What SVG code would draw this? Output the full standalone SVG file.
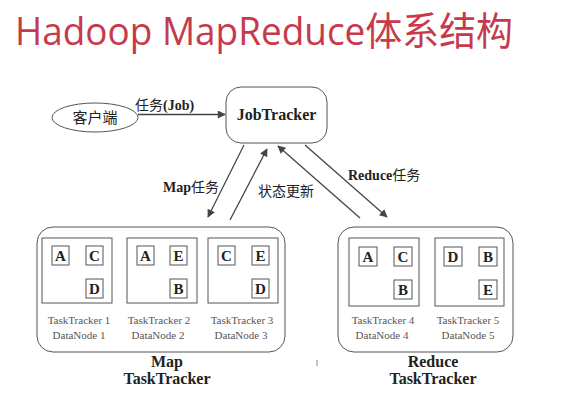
<svg xmlns="http://www.w3.org/2000/svg" width="561" height="405" viewBox="0 0 561 405">
<style>
.t{font-family:"Liberation Serif","Noto Sans CJK SC",serif;fill:#222}
.b{font-weight:bold}
.s{font-family:"Liberation Serif",serif;font-size:11px;fill:#555;text-anchor:middle}
.box{fill:#fff;stroke:#555;stroke-width:1}
.sq{fill:#fff;stroke:#555;stroke-width:1}
.l{font-family:"Liberation Serif",serif;font-weight:bold;font-size:15px;fill:#222;text-anchor:middle}
.c{stroke:#444;stroke-width:1.3;fill:none;marker-end:url(#ah)}
</style>
<defs>
<marker id="ah" viewBox="0 0 10 10" refX="9" refY="5" markerWidth="10" markerHeight="8" markerUnits="userSpaceOnUse" orient="auto">
<path d="M0,0 L10,5 L0,10 z" fill="#444"/>
</marker>
</defs>
<rect width="561" height="405" fill="#fff"/>
<text x="15" y="45" font-family="'Open Sans','Noto Sans CJK SC',sans-serif" font-size="39" fill="#c73a4b" textLength="498" lengthAdjust="spacingAndGlyphs">Hadoop MapReduce体系结构</text>

<g id="client">
<ellipse cx="95" cy="117.5" rx="43" ry="14.5" fill="#fff" stroke="#555"/>
<text x="95" y="123" class="t" font-size="15" text-anchor="middle">客户端</text>
</g>
<g id="jobtracker">
<rect x="226" y="87" width="101" height="56" rx="15" class="box"/>
<text x="276.5" y="120" class="t b" font-size="16" text-anchor="middle">JobTracker</text>
</g>

<g id="map">
<rect x="37" y="227" width="248" height="125" rx="16" class="box"/>
<g id="tt1">
<rect x="42" y="238" width="70" height="65" class="box"/>
<rect x="52" y="246" width="17" height="19" class="sq"/><text x="60.5" y="261" class="l">A</text>
<rect x="86" y="246" width="17" height="19" class="sq"/><text x="94.5" y="261" class="l">C</text>
<rect x="86" y="279" width="17" height="19" class="sq"/><text x="94.5" y="294" class="l">D</text>
<text x="79" y="324" class="s">TaskTracker 1</text><text x="79" y="339" class="s">DataNode 1</text>
</g>
<g id="tt2">
<rect x="127" y="238" width="70" height="65" class="box"/>
<rect x="137" y="246" width="17" height="19" class="sq"/><text x="145.5" y="261" class="l">A</text>
<rect x="170" y="246" width="17" height="19" class="sq"/><text x="178.5" y="261" class="l">E</text>
<rect x="170" y="279" width="17" height="19" class="sq"/><text x="178.5" y="294" class="l">B</text>
<text x="159" y="324" class="s">TaskTracker 2</text><text x="158" y="339" class="s">DataNode 2</text>
</g>
<g id="tt3">
<rect x="208" y="238" width="70" height="65" class="box"/>
<rect x="218" y="246" width="17" height="19" class="sq"/><text x="226.5" y="261" class="l">C</text>
<rect x="252" y="246" width="17" height="19" class="sq"/><text x="260.5" y="261" class="l">E</text>
<rect x="252" y="279" width="17" height="19" class="sq"/><text x="260.5" y="294" class="l">D</text>
<text x="242" y="324" class="s">TaskTracker 3</text><text x="241" y="339" class="s">DataNode 3</text>
</g>
<text x="167" y="367" class="t b" font-size="16" text-anchor="middle">Map</text>
<text x="167" y="384" class="t b" font-size="16" text-anchor="middle">TaskTracker</text>
</g>

<g id="reduce">
<rect x="338" y="227" width="175" height="125" rx="16" class="box"/>
<g id="tt4">
<rect x="349" y="238" width="70" height="68" class="box"/>
<rect x="359" y="247" width="18" height="19" class="sq"/><text x="368" y="262" class="l">A</text>
<rect x="394" y="247" width="18" height="19" class="sq"/><text x="403" y="262" class="l">C</text>
<rect x="394" y="280" width="18" height="19" class="sq"/><text x="403" y="295" class="l">B</text>
<text x="383" y="324" class="s">TaskTracker 4</text><text x="382" y="339" class="s">DataNode 4</text>
</g>
<g id="tt5">
<rect x="435" y="238" width="69" height="68" class="box"/>
<rect x="444" y="247" width="18" height="19" class="sq"/><text x="453" y="262" class="l">D</text>
<rect x="479" y="247" width="18" height="19" class="sq"/><text x="488" y="262" class="l">B</text>
<rect x="479" y="280" width="18" height="19" class="sq"/><text x="488" y="295" class="l">E</text>
<text x="468" y="324" class="s">TaskTracker 5</text><text x="468" y="339" class="s">DataNode 5</text>
</g>
<text x="433" y="367" class="t b" font-size="16" text-anchor="middle">Reduce</text>
<text x="433" y="384" class="t b" font-size="16" text-anchor="middle">TaskTracker</text>
</g>
<line x1="317" y1="360" x2="317" y2="366" stroke="#888" stroke-width="1"/>

<g id="connectors">
<line x1="138" y1="114.5" x2="225" y2="114.5" class="c"/>
<line x1="244" y1="145" x2="208" y2="217" class="c"/>
<line x1="230" y1="220" x2="267" y2="149" class="c"/>
<line x1="360" y1="218" x2="278" y2="146" class="c"/>
<line x1="305" y1="145" x2="387" y2="217" class="c"/>
<text x="135" y="110" class="t" font-size="14">任务<tspan class="b">(Job)</tspan></text>
<text x="163" y="192" class="t" font-size="14"><tspan class="b">Map</tspan>任务</text>
<text x="258" y="196" class="t" font-size="14">状态更新</text>
<text x="348" y="180" class="t" font-size="14"><tspan class="b">Reduce</tspan>任务</text>
</g>
</svg>
